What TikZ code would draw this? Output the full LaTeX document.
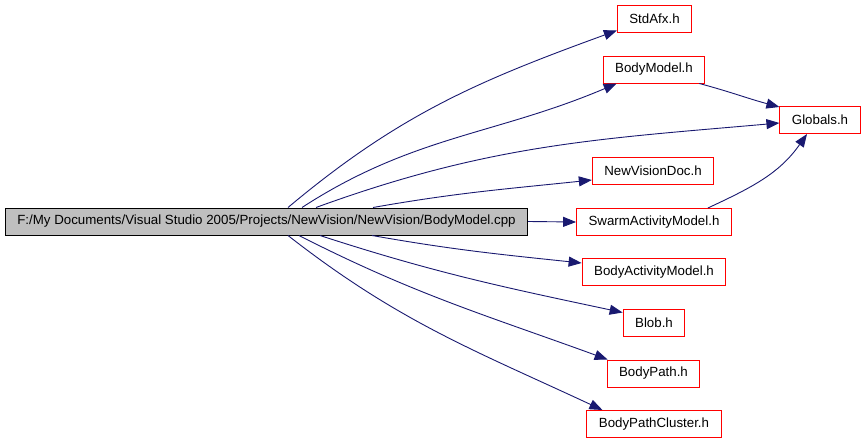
\documentclass[tikz,border=0pt]{standalone}
\usepackage{fontspec}
\setmainfont{Liberation Sans}
\usepackage{xcolor}
\usepackage{tikz}
\usetikzlibrary{arrows.meta}
\definecolor{edgeblue}{RGB}{25,25,112}
\definecolor{filegray}{RGB}{191,191,191}
\definecolor{hdrred}{RGB}{255,0,0}

\begin{document}
\begin{tikzpicture}[x=1pt,y=1pt,
    file/.style={rectangle,draw=hdrred,line width=1pt,inner xsep=12pt,inner ysep=0pt,
      minimum height=27pt,font=\fontsize{13.3}{16}\selectfont},
    dep/.style={draw=edgeblue,line width=0.9pt,-{Triangle[length=13pt,width=10pt]}}]
        \useasboundingbox (0,0) rectangle (864,-442);
        \node[file,draw=black,fill=filegray] (cpp) at (266.5,-221.5)
          {F:/My Documents/Visual Studio 2005/Projects/NewVision/NewVision/BodyModel.cpp};
        \node[file] (stdafx) at (654.5,-18.5) {StdAfx.h};
        \node[file] (bodymodel) at (654,-69.5) {BodyModel.h};
        \node[file] (globals) at (820,-120) {Globals.h};
        \node[file] (nvdoc) at (653,-170.5) {NewVisionDoc.h};
        \node[file] (swarm) at (654,-222) {SwarmActivityModel.h};
        \node[file] (bodyact) at (654,-272) {BodyActivityModel.h};
        \node[file] (blob) at (654,-322.5) {Blob.h};
        \node[file] (bodypath) at (653.5,-373.5) {BodyPath.h};
        \node[file] (cluster) at (654,-424) {BodyPathCluster.h};
        % includes of the cpp file
        \draw[dep] ([xshift=21.5pt]cpp.north) to[out=40,in=200] ([yshift=2pt]stdafx.south west);
        \draw[dep] ([xshift=35.5pt]cpp.north) to[out=33,in=203] ([xshift=14pt]bodymodel.south west);
        \draw[dep] ([xshift=49.5pt]cpp.north) to[out=20,in=185] ([yshift=-3pt]globals.west);
        \draw[dep] ([xshift=106.5pt]cpp.north) to[out=10,in=186] ([yshift=-9.5pt]nvdoc.west);
        \draw[dep] (cpp.east) -- (swarm.west);
        \draw[dep] ([xshift=105.5pt]cpp.south) to[out=-10,in=174] ([yshift=9pt]bodyact.west);
        \draw[dep] ([xshift=53.5pt]cpp.south) to[out=-18,in=168] ([yshift=-4pt]blob.north west);
        \draw[dep] ([xshift=32.5pt]cpp.south) to[out=-27,in=160] ([xshift=1pt]bodypath.north west);
        \draw[dep] ([xshift=21.5pt]cpp.south) to[out=-38,in=155] ([xshift=16pt]cluster.north west);
        % headers pulling in Globals.h
        \draw[dep] ([xshift=-6pt]bodymodel.south east) to[out=-15,in=165] ([yshift=-1pt]globals.north west);
        \draw[dep] ([xshift=-24pt]swarm.north east) to[out=25,in=235] ([xshift=-13pt]globals.south);
      \end{tikzpicture}
\end{document}
